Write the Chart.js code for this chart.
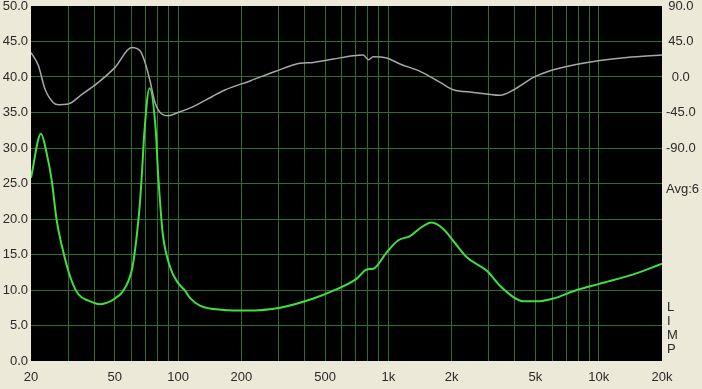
<!DOCTYPE html>
<html>
<head>
<meta charset="utf-8">
<script src="https://cdn.jsdelivr.net/npm/chart.js@4/dist/chart.umd.min.js"></script>
<style>
  html, body { margin: 0; padding: 0; background: #ece9d8; }
  #wrap { width: 702px; height: 389px; }
</style>
</head>
<body>
<div id="wrap"><canvas id="chart"></canvas></div>
<script>
// impedance magnitude (ohm) vs frequency (Hz)
const magFreq = [20, 22.3, 23.8, 25.1, 26.5, 28.8, 31.2, 33.6, 37.5, 42.6, 48.4, 51.1, 54, 60.6, 63.8, 66, 67.6, 69.1, 73.2,
    78.6, 80.1, 82.1, 84.6, 92, 100, 108, 114, 127, 164, 212, 306, 440, 548, 708, 790, 848, 982, 1116, 1268, 1415,
    1608, 1826, 2038, 2360, 2938, 3398, 3932, 4386, 5080, 6090, 7868, 10156, 14620, 20000];
const magOhm = [25.8, 32.0, 29.1, 25.4, 19.8, 14.8, 11.3, 9.4, 8.5, 8.0, 8.5, 9.0, 9.6, 13.1, 17.9, 22.5, 27.2, 32.0, 38.4,
    32.0, 27.2, 22.5, 17.9, 13.1, 11.0, 9.9, 8.9, 7.8, 7.2, 7.1, 7.5, 8.8, 9.9, 11.6, 12.9, 13.0, 15.3, 17.0, 17.6, 18.7,
    19.5, 18.6, 16.9, 14.6, 12.7, 10.6, 9.0, 8.4, 8.4, 8.8, 10.0, 10.9, 12.2, 13.7];

// impedance phase (degrees)
const phaseFreq = [20, 21.7, 23.3, 25.5, 27, 30.1, 34.8, 41.8, 50.2, 60.2, 66, 69.7, 73.6, 77.7, 83.7, 90, 100, 116, 145,
    167, 220, 289, 380, 440, 548, 682, 760, 804, 848, 982, 1136, 1415, 1762, 2038, 2536, 2938, 3398, 3932, 4892, 5876,
    7578, 10156, 13600, 20000];
const phaseDeg = [31, 14.3, -15.2, -32.2, -35.1, -34.2, -22.4, -6.8, 12.2, 37.5, 33.3, 18.5, -4.7, -32.2, -46.9, -49.1,
    -44.9, -38.5, -25.0, -16.5, -5, 7, 17.3, 18.5, 22.8, 27.0, 27.9, 21.9, 25.7, 24.1, 16.5, 7.1, -6.8, -16.1, -19.5,
    -21.5, -23.2, -16.5, -0.5, 8, 15.2, 21, 24.8, 27.9];

const gridFreqs = [20, 30, 40, 50, 60, 70, 80, 90, 100, 200, 300, 400, 500, 600, 700, 800, 900, 1000,
    2000, 3000, 4000, 5000, 6000, 7000, 8000, 9000, 10000, 20000];
const xTickValues = [20, 50, 100, 200, 500, 1000, 2000, 5000, 10000, 20000];
const xTickLabels = ['20', '50', '100', '200', '500', '1k', '2k', '5k', '10k', '20k'];

const gridColor = '#2f6e2f';
const textColor = '#2a2a2a';
const font = { family: "'Liberation Sans', Arial, sans-serif", size: 13 };

// fixed axis box so the plot sits where the original does
function fitY(width) {
    return s => {
        s.width = width;
        s.paddingTop = 6;
        s.paddingBottom = 0;
    };
}

// no grid line on the plot's outer edges
function innerGrid(lo, hi) {
    return c => (c.tick && (c.tick.value === lo || c.tick.value === hi)) ? 'rgba(0,0,0,0)' : gridColor;
}

const sideText = {
    id: 'sideText',
    beforeDraw(chart) {
        const { ctx, chartArea: a } = chart;
        ctx.save();
        ctx.fillStyle = '#000000';
        ctx.fillRect(a.left, a.top, a.right - a.left, a.bottom - a.top);
        ctx.restore();
    },
    afterDraw(chart) {
        const ctx = chart.ctx;
        ctx.save();
        ctx.font = "13px 'Liberation Sans', Arial, sans-serif";
        ctx.fillStyle = textColor;
        ctx.textAlign = 'left';
        ctx.textBaseline = 'middle';
        ctx.fillText('Avg:6', 666, 189);
        ['L', 'I', 'M', 'P'].forEach((c, i) => ctx.fillText(c, 667, 307 + i * 14));
        ctx.restore();
    }
};

new Chart(document.getElementById('chart'), {
    type: 'line',
    data: {
        datasets: [
            {
                data: phaseFreq.map((f, i) => ({ x: f, y: phaseDeg[i] })),
                yAxisID: 'y1',
                borderColor: '#a8a8a8',
                borderWidth: 1.5,
                pointRadius: 0,
                cubicInterpolationMode: 'monotone'
            },
            {
                data: magFreq.map((f, i) => ({ x: f, y: magOhm[i] })),
                yAxisID: 'y',
                borderColor: '#40e040',
                borderWidth: 2,
                pointRadius: 0,
                cubicInterpolationMode: 'monotone'
            }
        ]
    },
    options: {
        responsive: true,
        maintainAspectRatio: false,
        animation: false,
        layout: { padding: 0 },
        plugins: { legend: { display: false }, tooltip: { enabled: false } },
        scales: {
            x: {
                type: 'logarithmic',
                min: 20,
                max: 20000,
                afterBuildTicks: s => { s.ticks = gridFreqs.map(v => ({ value: v })); },
                afterFit: s => { s.height = 28; },
                grid: { color: innerGrid(20, 20000), drawTicks: false },
                border: { display: false },
                ticks: {
                    autoSkip: false,
                    maxRotation: 0,
                    padding: 9,
                    color: textColor,
                    font: font,
                    callback: v => {
                        const i = xTickValues.indexOf(v);
                        return i >= 0 ? xTickLabels[i] : '';
                    }
                }
            },
            y: {
                position: 'left',
                min: 0,
                max: 50,
                afterFit: fitY(31),
                grid: { color: innerGrid(0, 50), drawTicks: false },
                border: { display: false },
                ticks: { stepSize: 5, padding: 3, color: textColor, font: font, callback: v => v.toFixed(1) }
            },
            y1: {
                position: 'right',
                min: -360,
                max: 90,
                afterFit: fitY(40),
                grid: { display: false, drawTicks: false },
                border: { display: false },
                ticks: {
                    stepSize: 45,
                    padding: 4,
                    crossAlign: 'center',
                    color: textColor,
                    font: font,
                    callback: v => v >= -90 ? v.toFixed(1) : ''
                }
            }
        }
    },
    plugins: [sideText]
});
</script>
</body>
</html>
